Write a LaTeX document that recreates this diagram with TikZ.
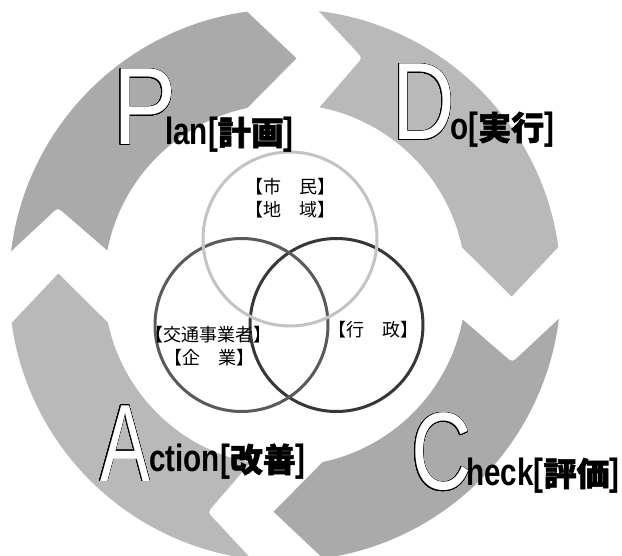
\documentclass[tikz,border=0pt]{standalone}
\usepackage{fontspec}
\usepackage{graphicx}
\usepackage[copies]{contour}
\usetikzlibrary{calc}
\setmainfont{Liberation Sans}
\newfontfamily\lablat{Liberation Sans}[FakeStretch=0.78]
\newfontfamily\biglat{Liberation Sans}
\newfontfamily\cjk{Noto Sans CJK JP}
\newfontfamily\cjkheavy{Noto Sans CJK JP}[FakeBold=1.6]
\definecolor{segdark}{RGB}{170,170,170}
\definecolor{seglight}{RGB}{185,185,185}
\definecolor{vtop}{RGB}{195,195,195}
\definecolor{vleft}{RGB}{90,90,90}
\definecolor{vright}{RGB}{55,55,55}
\contourlength{0.9pt}
\contournumber{24}
\newcommand{\labtext}[2]{\lablat\bfseries\fontsize{38}{38}\selectfont #1[{\cjkheavy\fontsize{33}{33}\selectfont #2}]}
\newcommand{\bigletter}[2]{\scalebox{#1}[1]{\color{white}\contour{black}{#2}}}
\begin{document}
\begin{tikzpicture}[x=1pt,y=1pt,
  biglet/.style={anchor=base west, inner sep=0pt, font=\biglat\fontsize{110}{110}\selectfont},
  labtxt/.style={anchor=base west, inner sep=0pt},
  venn/.style={line width=3pt},
  vlabel/.style={inner sep=0pt, font=\cjk\fontsize{18}{18}\selectfont}]
\useasboundingbox (0,0) rectangle (622,555);
\begin{scope}
\clip (0,0) rectangle (622,555);
\foreach \r/\col in {0/seglight,90/segdark,180/seglight,270/segdark}{
  \begin{scope}[shift={(285,270)}]
    \coordinate (ot) at ({\r+83}:276);
    \coordinate (it) at ({\r+79}:181);
    \coordinate (nt) at ({\r+71.2}:240);
    \coordinate (tp) at ({\r-2.9}:227);
    \coordinate (ih) at ({\r+12}:181);
    \fill[\col] (ot) arc[start angle={\r+83}, end angle={\r+7.9}, radius=276]
      -- (tp) -- (ih) arc[start angle={\r+12}, end angle={\r+79}, radius=181]
      -- ($(nt)!9pt!(it)$) .. controls (nt) .. ($(nt)!9pt!(ot)$) -- cycle;
  \end{scope}
}
\end{scope}
% Venn circles
\draw[venn, vright] (336.5,230) circle[radius=86.5];
\draw[venn, vleft] (241.5,230) circle[radius=86.5];
\draw[venn, vtop] (290,316) circle[radius=87];
% Venn labels
\node[vlabel] (shimin) at (290,368) {【市　民】};
\node[vlabel] (chiiki) at (290,345) {【地　域】};
\node[vlabel] (kotsu) at (208,220) {【交通事業者】};
\node[vlabel] (kigyo) at (209.5,197) {【企　業】};
\node[vlabel] (gyosei) at (373,225) {【行　政】};
% PDCA labels
\node[biglet] (bigP) at (113,410) {\bigletter{0.86}{P}};
\node[labtxt] (labP) at (165,410) {\labtext{lan}{計画}};
\node[biglet] (bigD) at (392,415) {\bigletter{0.79}{D}};
\node[labtxt] (labD) at (450,415) {\labtext{o}{実行}};
\node[biglet] (bigA) at (100,74) {\bigletter{0.68}{A}};
\node[labtxt] (labA) at (149,83) {\labtext{ction}{改善}};
\node[biglet] (bigC) at (411,65) {\bigletter{0.76}{C}};
\node[labtxt] (labC) at (466,69) {\labtext{heck}{評価}};
\end{tikzpicture}
\end{document}
